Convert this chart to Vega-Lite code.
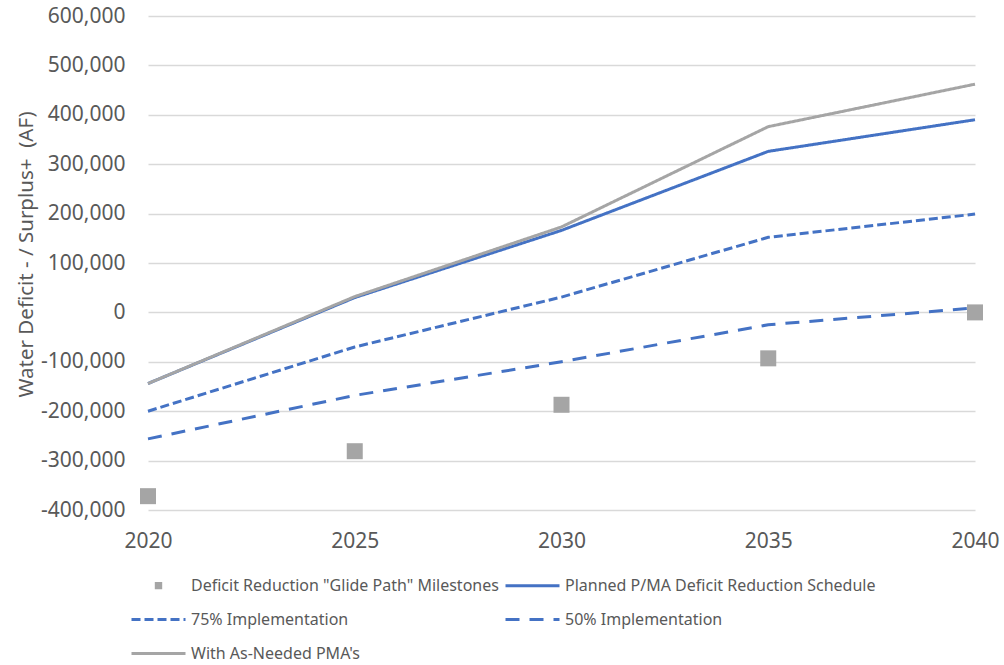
{
  "$schema": "https://vega.github.io/schema/vega-lite/v6.json",
  "width": 827,
  "height": 494,
  "autosize": {"type": "none"},
  "padding": {"left": 148, "top": 16, "right": 29, "bottom": 155},
  "background": "white",
  "config": {
    "view": {"stroke": null},
    "font": "Noto Sans",
    "axis": {
      "labelFont": "Noto Sans",
      "labelFontSize": 21,
      "labelColor": "#595959",
      "titleFont": "Noto Sans",
      "titleFontSize": 20.5,
      "titleFontWeight": "normal",
      "titleColor": "#595959",
      "ticks": false,
      "domain": false
    },
    "legend": {
      "title": null,
      "orient": "none",
      "direction": "horizontal",
      "legendX": -1,
      "legendY": 558,
      "columns": 2,
      "padding": 0,
      "columnPadding": 0,
      "rowPadding": 14,
      "labelFont": "Noto Sans",
      "labelFontSize": 16,
      "labelColor": "#595959",
      "labelLimit": 500,
      "labelOffset": 21,
      "symbolSize": 400,
      "symbolStrokeWidth": 3,
      "symbolOpacity": 1
    }
  },
  "data": {
    "values": [
      {"year": 2020, "series": "Deficit Reduction \"Glide Path\" Milestones", "value": -372000},
      {"year": 2025, "series": "Deficit Reduction \"Glide Path\" Milestones", "value": -281000},
      {"year": 2030, "series": "Deficit Reduction \"Glide Path\" Milestones", "value": -187000},
      {"year": 2035, "series": "Deficit Reduction \"Glide Path\" Milestones", "value": -93000},
      {"year": 2040, "series": "Deficit Reduction \"Glide Path\" Milestones", "value": 0},
      {"year": 2020, "series": "Planned P/MA Deficit Reduction Schedule", "value": -144000},
      {"year": 2025, "series": "Planned P/MA Deficit Reduction Schedule", "value": 30000},
      {"year": 2030, "series": "Planned P/MA Deficit Reduction Schedule", "value": 166000},
      {"year": 2035, "series": "Planned P/MA Deficit Reduction Schedule", "value": 326000},
      {"year": 2040, "series": "Planned P/MA Deficit Reduction Schedule", "value": 390000},
      {"year": 2020, "series": "75% Implementation", "value": -200000},
      {"year": 2025, "series": "75% Implementation", "value": -70000},
      {"year": 2030, "series": "75% Implementation", "value": 31000},
      {"year": 2035, "series": "75% Implementation", "value": 152000},
      {"year": 2040, "series": "75% Implementation", "value": 199000},
      {"year": 2020, "series": "50% Implementation", "value": -256000},
      {"year": 2025, "series": "50% Implementation", "value": -168000},
      {"year": 2030, "series": "50% Implementation", "value": -100000},
      {"year": 2035, "series": "50% Implementation", "value": -25000},
      {"year": 2040, "series": "50% Implementation", "value": 9000},
      {"year": 2020, "series": "With As-Needed PMA's", "value": -144000},
      {"year": 2025, "series": "With As-Needed PMA's", "value": 32000},
      {"year": 2030, "series": "With As-Needed PMA's", "value": 173000},
      {"year": 2035, "series": "With As-Needed PMA's", "value": 376000},
      {"year": 2040, "series": "With As-Needed PMA's", "value": 462000}
    ]
  },
  "encoding": {
    "x": {
      "field": "year",
      "type": "quantitative",
      "scale": {"domain": [2020, 2040], "nice": false, "zero": false},
      "axis": {
        "title": null,
        "values": [2020, 2025, 2030, 2035, 2040],
        "format": "d",
        "grid": false,
        "labelPadding": 20,
        "labelFlush": false
      }
    },
    "y": {
      "field": "value",
      "type": "quantitative",
      "scale": {"domain": [-400000, 600000], "nice": false, "zero": false},
      "axis": {
        "title": "Water Deficit - / Surplus+\u00a0 (AF)",
        "values": [-400000, -300000, -200000, -100000, 0, 100000, 200000, 300000, 400000, 500000, 600000],
        "labelExpr": "(datum.value < 0 ? '-' : '') + format(abs(datum.value), ',d')",
        "grid": true,
        "gridColor": "#d9d9d9",
        "gridWidth": 1.3,
        "labelPadding": 23,
        "titlePadding": 4,
        "titleY": 238
      }
    }
  },
  "layer": [
    {
      "transform": [{"filter": "datum.series !== 'Deficit Reduction \"Glide Path\" Milestones'"}],
      "mark": {"type": "line", "strokeWidth": 3, "strokeCap": "butt"},
      "encoding": {
        "color": {
          "field": "series",
          "type": "nominal",
          "scale": {
            "domain": ["Deficit Reduction \"Glide Path\" Milestones", "Planned P/MA Deficit Reduction Schedule", "75% Implementation", "50% Implementation", "With As-Needed PMA's"],
            "range": ["#A5A5A5", "#4472C4", "#4472C4", "#4472C4", "#A5A5A5"]
          },
          "legend": {
            "symbolType": {"expr": "datum.value === 'Deficit Reduction \"Glide Path\" Milestones' ? 'M-0.22,-0.22H0.22V0.22H-0.22Z' : 'M-2.7,0H2.7'"}
          }
        },
        "strokeDash": {
          "field": "series",
          "type": "nominal",
          "scale": {
            "domain": ["Deficit Reduction \"Glide Path\" Milestones", "Planned P/MA Deficit Reduction Schedule", "75% Implementation", "50% Implementation", "With As-Needed PMA's"],
            "range": [[1, 0], [1, 0], [9, 4], [14, 10], [1, 0]]
          },
          "legend": {
            "symbolType": {"expr": "datum.value === 'Deficit Reduction \"Glide Path\" Milestones' ? 'M-0.22,-0.22H0.22V0.22H-0.22Z' : 'M-2.7,0H2.7'"}
          }
        }
      }
    },
    {
      "transform": [{"filter": "datum.series === 'Deficit Reduction \"Glide Path\" Milestones'"}],
      "mark": {"type": "point", "shape": "square", "filled": true, "size": 256, "opacity": 1},
      "encoding": {
        "color": {"field": "series", "type": "nominal"}
      }
    }
  ]
}
